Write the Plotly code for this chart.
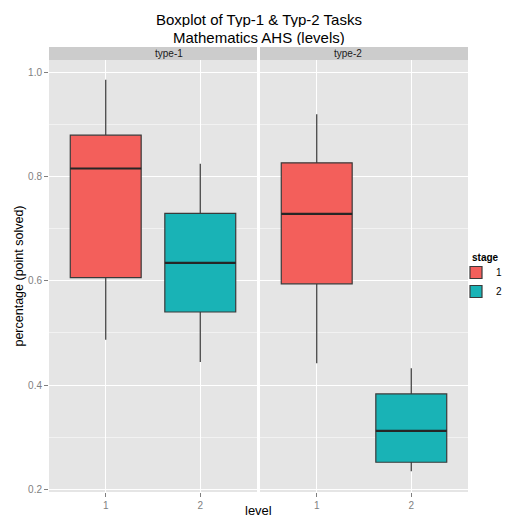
import plotly.graph_objects as go
from plotly.subplots import make_subplots

# ---- data ----
panels = ["type-1", "type-2"]
levels = [1, 2]
stages = ["1", "2"]
stage_colors = {"1": "#F35F5B", "2": "#19B3B6"}

t1_low = [0.487, 0.444]
t1_q1 = [0.606, 0.540]
t1_med = [0.815, 0.634]
t1_q3 = [0.879, 0.729]
t1_high = [0.985, 0.824]

t2_low = [0.442, 0.235]
t2_q1 = [0.594, 0.252]
t2_med = [0.728, 0.312]
t2_q3 = [0.826, 0.383]
t2_high = [0.919, 0.432]

stats = {
    "type-1": (t1_low, t1_q1, t1_med, t1_q3, t1_high),
    "type-2": (t2_low, t2_q1, t2_med, t2_q3, t2_high),
}

y_ticks = [0.2, 0.4, 0.6, 0.8, 1.0]
y_tick_text = ["0.2", "0.4", "0.6", "0.8", "1.0"]
title_lines = ["Boxplot of Typ-1 & Typ-2 Tasks", "Mathematics AHS (levels)"]

FONT = "Liberation Sans, Arial, sans-serif"
OFF = 8  # default page body margin
W, H = 511 - OFF, 520 - OFF
L, R, T, B = 49 - OFF, 43, 60 - OFF, 28
PH = H - T - B
PW = W - L - R
BOX_W = 0.75


def py(page_y):
    """page pixel y -> paper y"""
    return (H - B - (page_y - OFF)) / PH


def px(page_x):
    return (page_x - OFF - L) / PW


fig = make_subplots(rows=1, cols=2, shared_yaxes=True, horizontal_spacing=3 / PW)

shown = set()
for ci, panel in enumerate(panels):
    low, q1, med, q3, high = stats[panel]
    for li, lev in enumerate(levels):
        st = stages[li]
        fig.add_trace(
            go.Box(
                x=[lev], q1=[q1[li]], median=[med[li]], q3=[q3[li]],
                lowerfence=[low[li]], upperfence=[high[li]],
                width=BOX_W, whiskerwidth=0,
                fillcolor=stage_colors[st],
                line=dict(color="#3A3A3A", width=1.2),
                name=st, legendgroup=st, showlegend=st not in shown,
                boxpoints=False, hoverinfo="y",
            ),
            row=1, col=ci + 1,
        )
        shown.add(st)
        fig.add_trace(
            go.Scatter(
                x=[lev - BOX_W / 2, lev + BOX_W / 2], y=[med[li], med[li]],
                mode="lines", line=dict(color="#262626", width=2.2),
                showlegend=False, hoverinfo="skip",
            ),
            row=1, col=ci + 1,
        )

for ci in range(2):
    fig.update_xaxes(
        row=1, col=ci + 1, range=[0.4, 2.6], tickvals=levels, ticktext=[str(v) for v in levels],
        showgrid=True, gridcolor="white", gridwidth=1.2, zeroline=False, automargin=False,
        ticks="outside", ticklen=4, tickcolor="#7F7F7F",
        tickfont=dict(family=FONT, size=10, color="#7F7F7F"), showline=False,
    )
fig.update_yaxes(
    range=[0.195, 1.023], tickvals=y_ticks, ticktext=y_tick_text, automargin=False,
    showgrid=True, gridcolor="white", gridwidth=1.2, zeroline=False,
    minor=dict(dtick=0.1, tick0=0.1, showgrid=True, gridcolor="#F2F2F2", gridwidth=0.8, ticks=""),
    ticks="outside", ticklen=4, tickcolor="#7F7F7F",
    tickfont=dict(family=FONT, size=10, color="#7F7F7F"), showline=False,
)
fig.update_yaxes(row=1, col=1, title=dict(text="percentage (point solved)",
                 font=dict(family=FONT, size=12.5, color="black"), standoff=1))
fig.update_yaxes(row=1, col=2, ticks="", showticklabels=False)

# strips
dom1 = fig.layout.xaxis.domain
dom2 = fig.layout.xaxis2.domain
strip_h = 13 / PH
for dom, label in zip([dom1, dom2], panels):
    fig.add_shape(type="rect", xref="paper", yref="paper", x0=dom[0], x1=dom[1],
                  y0=1, y1=1 + strip_h, fillcolor="#CCCCCC", line=dict(width=0), layer="below")
    fig.add_annotation(x=(dom[0] + dom[1]) / 2, y=1 + strip_h / 2, xref="paper", yref="paper",
                       text=label, showarrow=False, font=dict(family=FONT, size=10, color="#1A1A1A"),
                       yanchor="middle")

# title lines
for line, yc in zip(title_lines, [19, 36.5]):
    fig.add_annotation(x=0.5, y=py(yc), xref="paper", yref="paper", text=line,
                       showarrow=False, yanchor="middle", xanchor="center",
                       height=16, borderpad=0, valign="middle",
                       font=dict(family=FONT, size=15, color="black"))

fig.add_annotation(x=0.5, y=py(510), xref="paper", yref="paper",
                   text="level", showarrow=False, yanchor="middle",
                   font=dict(family=FONT, size=13, color="black"))

# legend title
fig.add_annotation(x=px(470), y=py(257), xref="paper", yref="paper",
                   text="<b>stage</b>", showarrow=False, xanchor="left", yanchor="middle",
                   font=dict(family=FONT, size=10, color="black"))

fig.update_layout(
    width=W, height=H,
    margin=dict(l=L, r=R, t=T, b=B, autoexpand=False),
    paper_bgcolor="white", plot_bgcolor="#E5E5E5",
    legend=dict(x=px(456), xanchor="left", y=py(282), yanchor="middle",
                font=dict(family=FONT, size=10, color="black"),
                bgcolor="rgba(0,0,0,0)", tracegroupgap=0, itemwidth=30),
    showlegend=True,
)

fig.write_html("out.html")
